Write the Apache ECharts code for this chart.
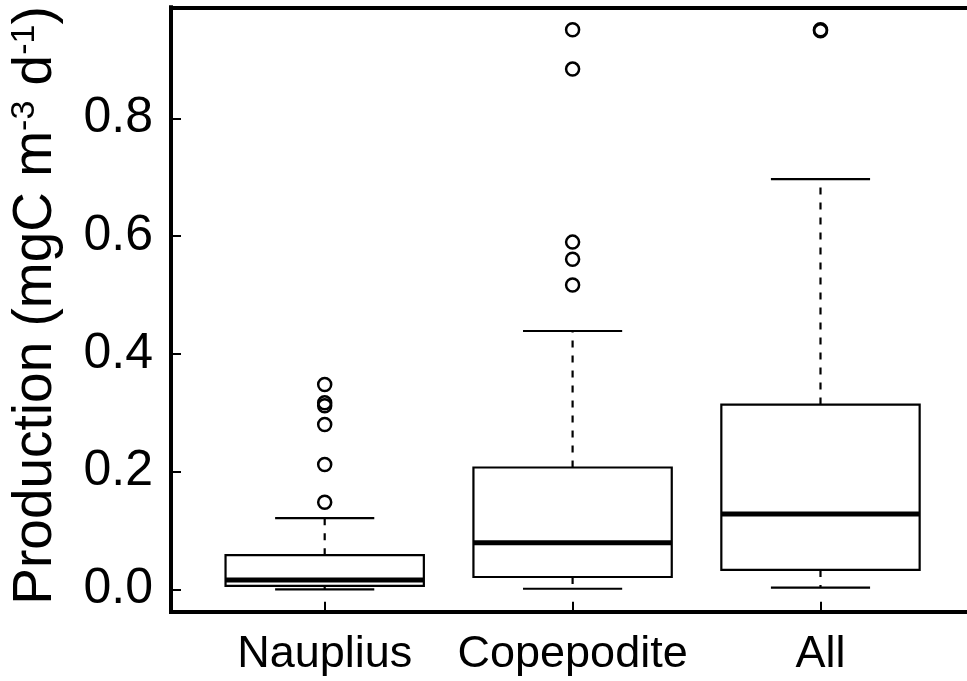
<!DOCTYPE html>
<html>
<head>
<meta charset="utf-8">
<script src="https://cdn.jsdelivr.net/npm/echarts@6/dist/echarts.min.js"></script>
<style>html,body{margin:0;padding:0;background:#fff;}#c{width:967px;height:681px;}</style>
</head>
<body>
<div id="c"></div>
<script>
// Categories and box statistics
const categories = ['Nauplius', 'Copepodite', 'All'];
const boxMin    = [0.000, 0.001, 0.003];
const boxQ1     = [0.006, 0.021, 0.033];
const boxMedian = [0.016, 0.079, 0.128];
const boxQ3     = [0.058, 0.207, 0.314];
const boxMax    = [0.121, 0.439, 0.697];
// Outliers per category
const outliersNauplius   = [0.348, 0.317, 0.312, 0.280, 0.212, 0.148];
const outliersCopepodite = [0.951, 0.884, 0.590, 0.561, 0.517];
const outliersAll        = [0.951, 0.949];
const yTicks = [0.0, 0.2, 0.4, 0.6, 0.8];
const xTicks = [1, 2, 3];

const boxData = categories.map((c, i) => [i + 1, boxMin[i], boxQ1[i], boxMedian[i], boxQ3[i], boxMax[i]]);
const outlierData = [];
[outliersNauplius, outliersCopepodite, outliersAll].forEach((arr, i) => arr.forEach(v => outlierData.push([i + 1, v])));

const FONT = 'Liberation Sans';
const frameLine = {show: true, onZero: false, lineStyle: {color: '#000', width: 4, cap: 'square'}};
const chart = echarts.init(document.getElementById('c'), null, {renderer: 'canvas'});
chart.setOption({
  animation: false,
  backgroundColor: '#fff',
  grid: {left: 168.5, right: 0, top: 7.3, bottom: 69.3, show: false},
  xAxis: [{
    type: 'value', min: 0.38, max: 3.591,
    splitLine: {show: false},
    axisLine: frameLine,
    axisTick: {show: true, inside: true, length: 10, customValues: xTicks, lineStyle: {color: '#000', width: 2}},
    axisLabel: {show: true, customValues: xTicks, margin: 20, fontSize: 45, fontFamily: FONT, color: '#000',
      formatter: v => categories[Math.round(v) - 1] || ''}
  }, {
    type: 'value', min: 0.38, max: 3.591, position: 'top',
    splitLine: {show: false},
    axisLine: frameLine,
    axisTick: {show: false},
    axisLabel: {show: false}
  }],
  yAxis: {
    type: 'value', min: -0.038, max: 0.989,
    splitLine: {show: false},
    axisLine: frameLine,
    axisTick: {show: true, inside: true, length: 10, customValues: yTicks, lineStyle: {color: '#000', width: 2}},
    axisLabel: {show: true, customValues: yTicks, margin: 18, fontSize: 50, fontFamily: FONT, color: '#000',
      formatter: v => v.toFixed(1)},
    name: 'Production (mgC m{sup|-3} d{sup|-1})',
    nameLocation: 'middle', nameRotate: 90, nameGap: 108,
    nameTextStyle: {fontSize: 55, fontFamily: FONT, color: '#000', padding: [0, 0, 0, 8],
      rich: {sup: {fontSize: 34, fontFamily: FONT, color: '#000', verticalAlign: 'top'}}}
  },
  series: [
    {
      type: 'custom',
      data: boxData,
      encode: {x: 0, y: [1, 2, 3, 4, 5]},
      renderItem: function (params, api) {
        const x = api.value(0);
        const pMin = api.coord([x, api.value(1)]);
        const pQ1 = api.coord([x, api.value(2)]);
        const pMed = api.coord([x, api.value(3)]);
        const pQ3 = api.coord([x, api.value(4)]);
        const pMax = api.coord([x, api.value(5)]);
        const hb = api.size([0.8, 0])[0] / 2;
        const hc = api.size([0.4, 0])[0] / 2;
        const cx = pMed[0];
        const solid = {stroke: '#000', lineWidth: 2.2, fill: null};
        const dashed = {stroke: '#000', lineWidth: 2.2, lineDash: [7, 8], fill: null};
        return {
          type: 'group',
          children: [
            {type: 'line', shape: {x1: cx, y1: pQ3[1], x2: cx, y2: pMax[1]}, style: dashed},
            {type: 'line', shape: {x1: cx, y1: pQ1[1], x2: cx, y2: pMin[1]}, style: dashed},
            {type: 'line', shape: {x1: cx - hc, y1: pMax[1], x2: cx + hc, y2: pMax[1]}, style: solid},
            {type: 'line', shape: {x1: cx - hc, y1: pMin[1], x2: cx + hc, y2: pMin[1]}, style: solid},
            {type: 'rect', shape: {x: cx - hb, y: pQ3[1], width: 2 * hb, height: pQ1[1] - pQ3[1]}, style: {stroke: '#000', lineWidth: 2.2, fill: '#fff'}},
            {type: 'line', shape: {x1: cx - hb, y1: pMed[1], x2: cx + hb, y2: pMed[1]}, style: {stroke: '#000', lineWidth: 5}}
          ]
        };
      }
    },
    {
      type: 'scatter',
      data: outlierData,
      symbol: 'circle',
      symbolSize: 13,
      itemStyle: {color: 'rgba(0,0,0,0)', borderColor: '#000', borderWidth: 2.5, opacity: 1}
    }
  ]
});
</script>
</body>
</html>
